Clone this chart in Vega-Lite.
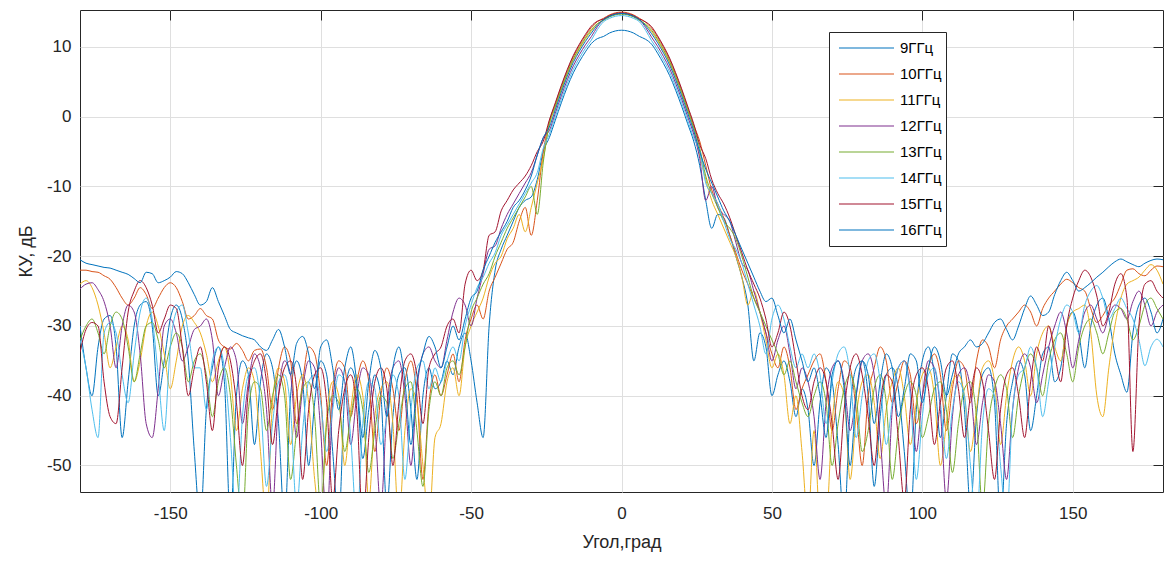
{
"$schema":"https://vega.github.io/schema/vega-lite/v6.json",
"width":1083,"height":482,
"autosize":{"type":"none"},
"padding":{"left":80,"top":10,"right":1,"bottom":71},
"background":"white",
"config":{"view":{"stroke":"#262626","strokeWidth":1},"font":"Liberation Sans"},
"resolve":{"axis":{"x":"independent","y":"independent"}},
"layer":[
{
"data":{"values":[
{"a":-180,"9":-30,"10":-22,"11":-24,"12":-24.7,"13":-32,"14":-32,"15":-33.8,"16":-20.5},
{"a":-178,"9":-36,"10":-22,"11":-23.5,"12":-24,"13":-30,"14":-36,"15":-30.5,"16":-21},
{"a":-176,"9":-40,"10":-22.2,"11":-24.5,"12":-23.8,"13":-29,"14":-42,"15":-29.5,"16":-21.2},
{"a":-174,"9":-33,"10":-22.3,"11":-27,"12":-24.8,"13":-31,"14":-46,"15":-30,"16":-21.4},
{"a":-172,"9":-29,"10":-22.8,"11":-31,"12":-26.5,"13":-34,"14":-31,"15":-38,"16":-21.6},
{"a":-170,"9":-28.5,"10":-23.3,"11":-36,"12":-30,"13":-30,"14":-29.5,"15":-43,"16":-21.7},
{"a":-168,"9":-33,"10":-24.5,"11":-33,"12":-36,"13":-28,"14":-31,"15":-44,"16":-22},
{"a":-166,"9":-46,"10":-26,"11":-30,"12":-30,"13":-29,"14":-37,"15":-36,"16":-22.3},
{"a":-164,"9":-38,"10":-27,"11":-32,"12":-27,"13":-33,"14":-41,"15":-28,"16":-22.6},
{"a":-162,"9":-30,"10":-26,"11":-38,"12":-28,"13":-38,"14":-34,"15":-25,"16":-23.2},
{"a":-160,"9":-27,"10":-24.5,"11":-35,"12":-34,"13":-34,"14":-28,"15":-23.5,"16":-23.8},
{"a":-158,"9":-26.5,"10":-25.5,"11":-30,"12":-44,"13":-30,"14":-26,"15":-24.5,"16":-22.3},
{"a":-156,"9":-30,"10":-27.5,"11":-28,"12":-46,"13":-29.5,"14":-29,"15":-27,"16":-22.5},
{"a":-154,"9":-40,"10":-26,"11":-30,"12":-39,"13":-32,"14":-37,"15":-31,"16":-23.8},
{"a":-152,"9":-35,"10":-24.5,"11":-34,"12":-30,"13":-36,"14":-45,"15":-29,"16":-23.5},
{"a":-150,"9":-29,"10":-23.8,"11":-39,"12":-29,"13":-33,"14":-33,"15":-27,"16":-23},
{"a":-148,"9":-27,"10":-24.5,"11":-35,"12":-31,"13":-31,"14":-28,"15":-27.5,"16":-22.2},
{"a":-146,"9":-29,"10":-26.5,"11":-30,"12":-35,"13":-33,"14":-27,"15":-33,"16":-22.5},
{"a":-144,"9":-35,"10":-29,"11":-28.5,"12":-33,"13":-38,"14":-31,"15":-40,"16":-23.8},
{"a":-142,"9":-48,"10":-28.5,"11":-29.5,"12":-30.5,"13":-35,"14":-36,"15":-36,"16":-25.5},
{"a":-140,"9":-58,"10":-27.5,"11":-31,"12":-30,"13":-34,"14":-36,"15":-33,"16":-27},
{"a":-138,"9":-42,"10":-28.5,"11":-34,"12":-29,"13":-37,"14":-42,"15":-38,"16":-26.5},
{"a":-136,"9":-36,"10":-29,"11":-38,"12":-32,"13":-43,"14":-35,"15":-45,"16":-24.5},
{"a":-134,"9":-33,"10":-32,"11":-35,"12":-40,"13":-38,"14":-33,"15":-36,"16":-26.5},
{"a":-132,"9":-38,"10":-33,"11":-33,"12":-36,"13":-36,"14":-36,"15":-33,"16":-28.5},
{"a":-130,"9":-58,"10":-33.3,"11":-37,"12":-33,"13":-40,"14":-46,"15":-35,"16":-30.5},
{"a":-128,"9":-40,"10":-32.5,"11":-45,"12":-35,"13":-50,"14":-58,"15":-41,"16":-31},
{"a":-126,"9":-35,"10":-33.5,"11":-39,"12":-44,"13":-58,"14":-43,"15":-50,"16":-31.4},
{"a":-124,"9":-37,"10":-35,"11":-36,"12":-38,"13":-42,"14":-37,"15":-39,"16":-31.7},
{"a":-122,"9":-47,"10":-33.5,"11":-38,"12":-34,"13":-38,"14":-36,"15":-35,"16":-32},
{"a":-120,"9":-38,"10":-33.3,"11":-48,"12":-36,"13":-39,"14":-41,"15":-34,"16":-33},
{"a":-118,"9":-34,"10":-36,"11":-58,"12":-42,"13":-45,"14":-53,"15":-38,"16":-33.5},
{"a":-116,"9":-36,"10":-42,"11":-41,"12":-56,"13":-40,"14":-44,"15":-47,"16":-32},
{"a":-114,"9":-44,"10":-36,"11":-36,"12":-40,"13":-37,"14":-38,"15":-40,"16":-30.5},
{"a":-112,"9":-58,"10":-33,"11":-38,"12":-35,"13":-40,"14":-37,"15":-36,"16":-33},
{"a":-110,"9":-40,"10":-35,"11":-47,"12":-37,"13":-52,"14":-42,"15":-35,"16":-37},
{"a":-108,"9":-35,"10":-44,"11":-40,"12":-46,"13":-45,"14":-56,"15":-39,"16":-32.5},
{"a":-106,"9":-38,"10":-38,"11":-37,"12":-39,"13":-39,"14":-45,"15":-52,"16":-31.5},
{"a":-104,"9":-50,"10":-33,"11":-41,"12":-35,"13":-38,"14":-38,"15":-42,"16":-34},
{"a":-102,"9":-41,"10":-34,"11":-52,"12":-36,"13":-43,"14":-37,"15":-37,"16":-39},
{"a":-100,"9":-35,"10":-40,"11":-58,"12":-45,"13":-56,"14":-41,"15":-36,"16":-33},
{"a":-98,"9":-37,"10":-50,"11":-43,"12":-58,"13":-44,"14":-48,"15":-41,"16":-32},
{"a":-96,"9":-48,"10":-39,"11":-38,"12":-41,"13":-40,"14":-42,"15":-55,"16":-36},
{"a":-94,"9":-58,"10":-35,"11":-40,"12":-36,"13":-41,"14":-37,"15":-45,"16":-42},
{"a":-92,"9":-40,"10":-36,"11":-50,"12":-38,"13":-48,"14":-38,"15":-39,"16":-36},
{"a":-90,"9":-36,"10":-43,"11":-42,"12":-47,"13":-43,"14":-46,"15":-37,"16":-33},
{"a":-88,"9":-39,"10":-38,"11":-37,"12":-40,"13":-39,"14":-58,"15":-42,"16":-38},
{"a":-86,"9":-49,"10":-35,"11":-40,"12":-36,"13":-42,"14":-44,"15":-58,"16":-46},
{"a":-84,"9":-42,"10":-38,"11":-55,"12":-37,"13":-51,"14":-38,"15":-46,"16":-38},
{"a":-82,"9":-37,"10":-48,"11":-43,"12":-44,"13":-45,"14":-39,"15":-38,"16":-33.5},
{"a":-80,"9":-40,"10":-40,"11":-39,"12":-56,"13":-40,"14":-47,"15":-36,"16":-36},
{"a":-78,"9":-56,"10":-36,"11":-38,"12":-42,"13":-41,"14":-43,"15":-39,"16":-43},
{"a":-76,"9":-43,"10":-39,"11":-44,"12":-36,"13":-49,"14":-37,"15":-50,"16":-36},
{"a":-74,"9":-37,"10":-45,"11":-58,"12":-35,"13":-44,"14":-40,"15":-41,"16":-33},
{"a":-72,"9":-36,"10":-38,"11":-45,"12":-40,"13":-39,"14":-52,"15":-35,"16":-38},
{"a":-70,"9":-42,"10":-35,"11":-39,"12":-50,"13":-38,"14":-42,"15":-34,"16":-47},
{"a":-68,"9":-52,"10":-40,"11":-41,"12":-39,"13":-45,"14":-36,"15":-37,"16":-38},
{"a":-66,"9":-40,"10":-52,"11":-50,"12":-34,"13":-53,"14":-35,"15":-44,"16":-34},
{"a":-64,"9":-36,"10":-41,"11":-58,"12":-33,"13":-42,"14":-39,"15":-36,"16":-31.5},
{"a":-62,"9":-39,"10":-37,"11":-46,"12":-35,"13":-38,"14":-36,"15":-34,"16":-33},
{"a":-60,"9":-38,"10":-40,"11":-44,"12":-36,"13":-40,"14":-38,"15":-33,"16":-36},
{"a":-58,"9":-35,"10":-37,"11":-38,"12":-32,"13":-36,"14":-35,"15":-30,"16":-33},
{"a":-56,"9":-37,"10":-34,"11":-36,"12":-28,"13":-35,"14":-33,"15":-29,"16":-30},
{"a":-54,"9":-33,"10":-38,"11":-40,"12":-26,"13":-37,"14":-35,"15":-31,"16":-32},
{"a":-52,"9":-31,"10":-32,"11":-33,"12":-27,"13":-33,"14":-30,"15":-24,"16":-29},
{"a":-50,"9":-35,"10":-29,"11":-30,"12":-30,"13":-28,"14":-27,"15":-22,"16":-26},
{"a":-48,"9":-41,"10":-27,"11":-28,"12":-26,"13":-26,"14":-24.5,"15":-23.5,"16":-25},
{"a":-46,"9":-46,"10":-29,"11":-26,"12":-22.5,"13":-24,"14":-23,"15":-22,"16":-22},
{"a":-44,"9":-30,"10":-25,"11":-23,"12":-19,"13":-22.5,"14":-21,"15":-17,"16":-20},
{"a":-42,"9":-22,"10":-23,"11":-21,"12":-18.5,"13":-20,"14":-19.5,"15":-16.5,"16":-18},
{"a":-40,"9":-19,"10":-21,"11":-20,"12":-16,"13":-18,"14":-17,"15":-13.5,"16":-16.5},
{"a":-38,"9":-17,"10":-19,"11":-17.5,"12":-14,"13":-16,"14":-15.5,"15":-12,"16":-15},
{"a":-36,"9":-15,"10":-18,"11":-16,"12":-12.5,"13":-14.5,"14":-14,"15":-10.5,"16":-13},
{"a":-34,"9":-13,"10":-15,"11":-14,"12":-11,"13":-13,"14":-12.5,"15":-9.5,"16":-12},
{"a":-32,"9":-12,"10":-13,"11":-16.5,"12":-9.5,"13":-11.5,"14":-11,"15":-8.5,"16":-10.5},
{"a":-30,"9":-11.5,"10":-17,"11":-13,"12":-8,"13":-10,"14":-9.5,"15":-7,"16":-8.5},
{"a":-28,"9":-9,"10":-12,"11":-9.5,"12":-5.5,"13":-14,"14":-8,"15":-5,"16":-5.5},
{"a":-26,"9":-5,"10":-5,"11":-6,"12":-3,"13":-6.5,"14":-4.5,"15":-3.5,"16":-3},
{"a":-24,"9":-3,"10":-0.7,"11":-1.2,"12":-2,"13":-1,"14":-2.5,"15":-0.5,"16":-1.5},
{"a":-22,"9":-0.5,"10":1.8,"11":1.3,"12":0.5,"13":1.5,"14":0,"15":2,"16":1},
{"a":-20,"9":2,"10":4.3,"11":3.8,"12":3,"13":4,"14":2.5,"15":4.5,"16":3.5},
{"a":-18,"9":4.3,"10":6.6,"11":6.1,"12":5.3,"13":6.3,"14":4.8,"15":6.8,"16":5.8},
{"a":-16,"9":6.3,"10":8.6,"11":8.1,"12":7.3,"13":8.3,"14":6.8,"15":8.8,"16":7.8},
{"a":-14,"9":7.9,"10":10.2,"11":9.7,"12":8.9,"13":9.9,"14":8.4,"15":10.4,"16":9.4},
{"a":-12,"9":9.3,"10":11.6,"11":11.1,"12":10.3,"13":11.3,"14":9.8,"15":11.8,"16":10.8},
{"a":-10,"9":10.5,"10":12.8,"11":12.3,"12":11.5,"13":12.5,"14":11,"15":13,"16":12},
{"a":-8,"9":11.2,"10":13.65,"11":13.3,"12":12.9,"13":13.35,"14":12.5,"15":13.7,"16":13.15},
{"a":-6,"9":11.5,"10":14.1,"11":13.9,"12":13.9,"13":13.8,"14":13.6,"15":14,"16":13.9},
{"a":-4,"9":12,"10":14.6,"11":14.4,"12":14.4,"13":14.3,"14":14.1,"15":14.5,"16":14.4},
{"a":-2,"9":12.3,"10":14.9,"11":14.7,"12":14.7,"13":14.6,"14":14.4,"15":14.8,"16":14.7},
{"a":0,"9":12.4,"10":15,"11":14.8,"12":14.8,"13":14.7,"14":14.5,"15":14.9,"16":14.8},
{"a":2,"9":12.3,"10":14.9,"11":14.7,"12":14.7,"13":14.6,"14":14.4,"15":14.8,"16":14.7},
{"a":4,"9":12,"10":14.6,"11":14.4,"12":14.4,"13":14.3,"14":14.1,"15":14.5,"16":14.4},
{"a":6,"9":11.5,"10":14.1,"11":13.9,"12":13.9,"13":13.8,"14":13.6,"15":14,"16":13.9},
{"a":8,"9":11.1,"10":13.55,"11":13.2,"12":12.8,"13":13.25,"14":12.4,"15":13.6,"16":13.05},
{"a":10,"9":10.4,"10":12.7,"11":12.2,"12":11.4,"13":12.4,"14":10.9,"15":12.9,"16":11.9},
{"a":12,"9":9.1,"10":11.4,"11":10.9,"12":10.1,"13":11.1,"14":9.6,"15":11.6,"16":10.6},
{"a":14,"9":7.6,"10":9.9,"11":9.4,"12":8.6,"13":9.6,"14":8.1,"15":10.1,"16":9.1},
{"a":16,"9":5.9,"10":8.2,"11":7.7,"12":6.9,"13":7.9,"14":6.4,"15":8.4,"16":7.4},
{"a":18,"9":3.8,"10":6.1,"11":5.6,"12":4.8,"13":5.8,"14":4.3,"15":6.3,"16":5.3},
{"a":20,"9":1.5,"10":3.8,"11":3.3,"12":2.5,"13":3.5,"14":2,"15":4,"16":3},
{"a":22,"9":-1,"10":1.3,"11":0.8,"12":0,"13":1,"14":-0.5,"15":1.5,"16":0.5},
{"a":24,"9":-3.5,"10":-1.2,"11":-1.7,"12":-2.5,"13":-1.5,"14":-3,"15":-1,"16":-2},
{"a":26,"9":-7,"10":-3.5,"11":-5.5,"12":-6,"13":-4.5,"14":-5,"15":-4,"16":-5},
{"a":28,"9":-12,"10":-7,"11":-9,"12":-12,"13":-8.5,"14":-9.5,"15":-6,"16":-7.5},
{"a":30,"9":-16,"10":-10.5,"11":-12,"12":-10,"13":-11,"14":-11,"15":-9,"16":-9.5},
{"a":32,"9":-14,"10":-12.5,"11":-14,"12":-13,"13":-13,"14":-12.5,"15":-11,"16":-11.5},
{"a":34,"9":-14.5,"10":-14.5,"11":-16,"12":-14,"13":-15,"14":-15,"15":-12.5,"16":-13.5},
{"a":36,"9":-17,"10":-17,"11":-18,"12":-15,"13":-16,"14":-17.5,"15":-14.5,"16":-15},
{"a":38,"9":-20,"10":-19.5,"11":-20,"12":-18,"13":-17.5,"14":-19,"15":-17,"16":-17},
{"a":40,"9":-23,"10":-22,"11":-23,"12":-21,"13":-20,"14":-21,"15":-19.5,"16":-19},
{"a":42,"9":-27,"10":-24,"11":-27,"12":-22,"13":-23,"14":-24,"15":-22,"16":-21},
{"a":44,"9":-35,"10":-26,"11":-25,"12":-25,"13":-26,"14":-27,"15":-24,"16":-23},
{"a":46,"9":-31,"10":-28,"11":-28,"12":-28,"13":-28,"14":-30,"15":-26,"16":-25},
{"a":48,"9":-33,"10":-31,"11":-32,"12":-31,"13":-30,"14":-34,"15":-29,"16":-26.5},
{"a":50,"9":-40,"10":-34,"11":-36,"12":-35,"13":-32,"14":-29,"15":-33,"16":-26},
{"a":52,"9":-37,"10":-36,"11":-34,"12":-32,"13":-34,"14":-27,"15":-31,"16":-28.5},
{"a":54,"9":-35,"10":-33,"11":-37,"12":-30,"13":-37,"14":-29,"15":-28,"16":-31},
{"a":56,"9":-38,"10":-36,"11":-44,"12":-34,"13":-35,"14":-33,"15":-30,"16":-29},
{"a":58,"9":-43,"10":-42,"11":-40,"12":-39,"13":-38,"14":-36,"15":-35,"16":-32},
{"a":60,"9":-39,"10":-39,"11":-48,"12":-36,"13":-41,"14":-34,"15":-40,"16":-35},
{"a":62,"9":-42,"10":-37,"11":-58,"12":-38,"13":-43,"14":-36,"15":-42,"16":-38},
{"a":64,"9":-50,"10":-35,"11":-45,"12":-43,"13":-40,"14":-34,"15":-38,"16":-36},
{"a":66,"9":-41,"10":-34,"11":-58,"12":-52,"13":-38,"14":-37,"15":-36,"16":-40},
{"a":68,"9":-36,"10":-38,"11":-58,"12":-41,"13":-41,"14":-44,"15":-38,"16":-46},
{"a":70,"9":-38,"10":-45,"11":-44,"12":-36,"13":-50,"14":-38,"15":-44,"16":-37},
{"a":72,"9":-47,"10":-39,"11":-38,"12":-35,"13":-44,"14":-34,"15":-52,"16":-35},
{"a":74,"9":-58,"10":-35,"11":-40,"12":-38,"13":-39,"14":-33,"15":-42,"16":-39},
{"a":76,"9":-42,"10":-36,"11":-52,"12":-45,"13":-37,"14":-37,"15":-36,"16":-50},
{"a":78,"9":-36,"10":-42,"11":-43,"12":-40,"13":-40,"14":-46,"15":-34,"16":-40},
{"a":80,"9":-35,"10":-50,"11":-38,"12":-35,"13":-48,"14":-40,"15":-37,"16":-35},
{"a":82,"9":-40,"10":-40,"11":-37,"12":-34,"13":-45,"14":-35,"15":-43,"16":-37},
{"a":84,"9":-53,"10":-36,"11":-41,"12":-37,"13":-39,"14":-34,"15":-50,"16":-44},
{"a":86,"9":-43,"10":-33,"11":-49,"12":-46,"13":-37,"14":-38,"15":-41,"16":-38},
{"a":88,"9":-37,"10":-35,"11":-42,"12":-56,"13":-41,"14":-47,"15":-37,"16":-34},
{"a":90,"9":-36,"10":-41,"11":-38,"12":-42,"13":-52,"14":-41,"15":-38,"16":-36},
{"a":92,"9":-39,"10":-38,"11":-36,"12":-36,"13":-45,"14":-36,"15":-46,"16":-43},
{"a":94,"9":-48,"10":-35,"11":-40,"12":-35,"13":-40,"14":-35,"15":-55,"16":-39},
{"a":96,"9":-58,"10":-37,"11":-47,"12":-39,"13":-38,"14":-40,"15":-42,"16":-34},
{"a":98,"9":-42,"10":-44,"11":-41,"12":-48,"13":-40,"14":-52,"15":-37,"16":-35},
{"a":100,"9":-35,"10":-40,"11":-37,"12":-40,"13":-46,"14":-43,"15":-36,"16":-41},
{"a":102,"9":-33,"10":-36,"11":-36,"12":-35,"13":-43,"14":-37,"15":-39,"16":-36},
{"a":104,"9":-37,"10":-34,"11":-40,"12":-36,"13":-39,"14":-36,"15":-47,"16":-33},
{"a":106,"9":-46,"10":-37,"11":-50,"12":-42,"13":-38,"14":-41,"15":-41,"16":-35},
{"a":108,"9":-40,"10":-45,"11":-44,"12":-55,"13":-42,"14":-49,"15":-36,"16":-40},
{"a":110,"9":-34,"10":-39,"11":-38,"12":-43,"13":-51,"14":-42,"15":-35,"16":-37},
{"a":112,"9":-35,"10":-35,"11":-37,"12":-37,"13":-44,"14":-38,"15":-39,"16":-34},
{"a":114,"9":-42,"10":-36,"11":-40,"12":-36,"13":-39,"14":-40,"15":-46,"16":-33},
{"a":116,"9":-56,"10":-41,"11":-48,"12":-39,"13":-38,"14":-50,"15":-40,"16":-32},
{"a":118,"9":-43,"10":-35,"11":-42,"12":-47,"13":-43,"14":-58,"15":-36,"16":-33},
{"a":120,"9":-37,"10":-32,"11":-36,"12":-41,"13":-56,"14":-44,"15":-38,"16":-32.5},
{"a":122,"9":-36,"10":-33,"11":-35,"12":-37,"13":-44,"14":-39,"15":-45,"16":-31},
{"a":124,"9":-41,"10":-36,"11":-38,"12":-38,"13":-39,"14":-40,"15":-52,"16":-29.5},
{"a":126,"9":-58,"10":-32,"11":-47,"12":-44,"13":-37,"14":-50,"15":-42,"16":-29},
{"a":128,"9":-44,"10":-30,"11":-40,"12":-52,"13":-39,"14":-58,"15":-37,"16":-30.5},
{"a":130,"9":-38,"10":-29,"11":-35,"12":-42,"13":-46,"14":-42,"15":-36,"16":-32},
{"a":132,"9":-35,"10":-28,"11":-33,"12":-36,"13":-40,"14":-37,"15":-40,"16":-30},
{"a":134,"9":-37,"10":-27,"11":-35,"12":-34,"13":-36,"14":-36,"15":-46,"16":-27.5},
{"a":136,"9":-45,"10":-28,"11":-40,"12":-36,"13":-34,"14":-33,"15":-38,"16":-25.7},
{"a":138,"9":-40,"10":-30,"11":-34,"12":-41,"13":-36,"14":-36,"15":-33,"16":-27},
{"a":140,"9":-34,"10":-27.5,"11":-31,"12":-37,"13":-40,"14":-43,"15":-35,"16":-28.5},
{"a":142,"9":-33,"10":-26,"11":-30,"12":-33,"13":-35,"14":-38,"15":-30,"16":-28},
{"a":144,"9":-38,"10":-25,"11":-33,"12":-30,"13":-32,"14":-33,"15":-34,"16":-25.5},
{"a":146,"9":-36,"10":-24,"11":-35,"12":-28,"13":-31,"14":-29,"15":-38,"16":-23.5},
{"a":148,"9":-30,"10":-23.3,"11":-30,"12":-31,"13":-34,"14":-27,"15":-30,"16":-22.3},
{"a":150,"9":-28,"10":-23.8,"11":-28,"12":-36,"13":-38,"14":-28,"15":-26,"16":-23.5},
{"a":152,"9":-31,"10":-24.5,"11":-27.5,"12":-32,"13":-33,"14":-31,"15":-23.5,"16":-25},
{"a":154,"9":-36,"10":-25,"11":-27,"12":-28,"13":-30,"14":-27,"15":-22,"16":-24.5},
{"a":156,"9":-30,"10":-27.5,"11":-31,"12":-27,"13":-29,"14":-25,"15":-23,"16":-23.8},
{"a":158,"9":-27,"10":-29.5,"11":-40,"12":-29,"13":-31,"14":-24.2,"15":-25.7,"16":-23},
{"a":160,"9":-26,"10":-28.5,"11":-43,"12":-31,"13":-34,"14":-26,"15":-30,"16":-22.3},
{"a":162,"9":-29,"10":-27,"11":-36,"12":-28.5,"13":-31,"14":-29,"15":-28,"16":-21.5},
{"a":164,"9":-34,"10":-26,"11":-30,"12":-27,"13":-28,"14":-27.5,"15":-24,"16":-20.8},
{"a":166,"9":-37,"10":-24,"11":-26,"12":-27.5,"13":-27.5,"14":-26,"15":-22.5,"16":-20.4},
{"a":168,"9":-39.5,"10":-22,"11":-24,"12":-29,"13":-29,"14":-27.5,"15":-26,"16":-20.8},
{"a":170,"9":-31,"10":-21.8,"11":-23.5,"12":-26.5,"13":-32,"14":-29,"15":-48,"16":-21.2},
{"a":172,"9":-27,"10":-22.5,"11":-23,"12":-25,"13":-30,"14":-32,"15":-30,"16":-21.5},
{"a":174,"9":-26,"10":-22.8,"11":-22,"12":-27,"13":-27,"14":-35.7,"15":-24,"16":-21},
{"a":176,"9":-28,"10":-22,"11":-21.2,"12":-30,"13":-26,"14":-33,"15":-23.5,"16":-20.6},
{"a":178,"9":-31,"10":-21.4,"11":-22,"12":-28,"13":-27.5,"14":-31.9,"15":-25,"16":-20.4},
{"a":180,"9":-29,"10":-21.5,"11":-24,"12":-27,"13":-29,"14":-33,"15":-26,"16":-20.5}
]},
"transform":[{"fold":["9","10","11","12","13","14","15","16"],"as":["f","v"]}],
"mark":{"type":"line","strokeWidth":1,"clip":true,"interpolate":"monotone"},
"encoding":{
"x":{"field":"a","type":"quantitative",
 "scale":{"domain":[-180,180],"nice":false,"zero":false},
 "axis":{"values":[-150,-100,-50,0,50,100,150],"title":"Угол,град","titleFontSize":18,"titleFontWeight":"normal","titleColor":"#262626","titlePadding":12,
 "labelFontSize":17,"labelColor":"#262626","labelPadding":13,"labelExpr":"'' + datum.value",
 "grid":true,"gridColor":"#dfdfdf","ticks":false,"domain":false}},
"y":{"field":"v","type":"quantitative",
 "scale":{"domain":[-53.8,15.3],"nice":false,"zero":false},
 "axis":{"values":[-50,-40,-30,-20,-10,0,10],"title":"КУ, дБ","titleFontSize":18,"titleFontWeight":"normal","titleColor":"#262626","titlePadding":11,
 "labelFontSize":17,"labelColor":"#262626","labelPadding":9,"labelExpr":"'' + datum.value",
 "grid":true,"gridColor":"#dfdfdf","ticks":false,"domain":false}},
"color":{"field":"f","type":"nominal",
 "scale":{"domain":["9","10","11","12","13","14","15","16"],"range":["#0072BD","#D95319","#EDB120","#7E2F8E","#77AC30","#4DBEEE","#A2142F","#0072BD"]},
 "legend":{"orient":"none","legendX":749,"legendY":22,"title":null,"symbolType":"stroke","symbolSize":3025,"symbolStrokeWidth":1.2,"symbolOffset":5,
 "labelFontSize":15,"labelColor":"#000000","labelOffset":5,"labelExpr":"datum.label + 'ГГц\u00a0\u00a0'",
 "strokeColor":"#262626","fillColor":"white","padding":4,"clipHeight":24,"rowPadding":2}}
}
},
{
"data":{"values":[{"a":0,"v":0}]},
"mark":{"type":"point","opacity":0},
"encoding":{
"x":{"field":"a","type":"quantitative","scale":{"domain":[-180,180],"nice":false,"zero":false},
 "axis":{"orient":"top","values":[-150,-100,-50,0,50,100,150],"labels":false,"title":null,"grid":false,"domain":false,"ticks":true,"tickSize":-10,"tickColor":"#262626"}},
"y":{"field":"v","type":"quantitative","scale":{"domain":[-53.8,15.3],"nice":false,"zero":false},
 "axis":{"orient":"right","values":[-50,-40,-30,-20,-10,0,10],"labels":false,"title":null,"grid":false,"domain":false,"ticks":true,"tickSize":-10,"tickColor":"#262626"}}
}
}
]
}
